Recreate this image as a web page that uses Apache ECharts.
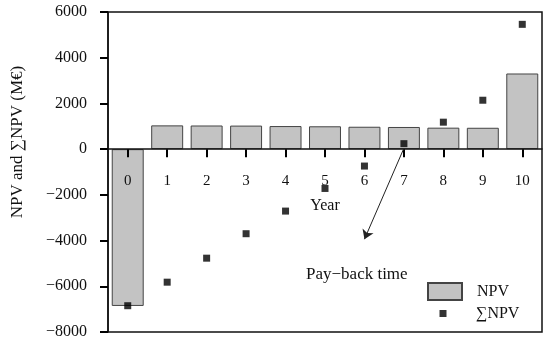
<!DOCTYPE html>
<html>
<head>
<meta charset="utf-8">
<script src="https://cdn.jsdelivr.net/npm/echarts@6/dist/echarts.min.js"></script>
<style>html,body{margin:0;padding:0;background:#fff}#c{width:550px;height:344px}</style>
</head>
<body>
<div id="c"></div>
<script>
var years = ['0','1','2','3','4','5','6','7','8','9','10'];
var npv = [-6860, 1040, 1035, 1030, 1010, 1000, 980, 970, 940, 935, 3310];
var cumNpv = [-6850, -5820, -4770, -3700, -2710, -1720, -740, 240, 1180, 2140, 5460];
var yTicks = [-8000, -6000, -4000, -2000, 0, 2000, 4000, 6000];

var FONT = "'Liberation Serif','Times New Roman',serif";
var GRID_TOP = 12, GRID_BOTTOM = 12, H = 344;
var yMin = yTicks[0], yMax = yTicks[yTicks.length - 1];
var zeroOffset = (H - GRID_TOP - GRID_BOTTOM) * (0 - yMin) / (yMax - yMin);

var chart = echarts.init(document.getElementById('c'));
chart.setOption({
  animation: false,
  backgroundColor: '#fff',
  grid: {left: 108, right: 8, top: GRID_TOP, bottom: GRID_BOTTOM, outerBoundsMode: 'none', containLabel: false,
         show: true, borderColor: '#111', borderWidth: 1.5, backgroundColor: 'transparent'},
  xAxis: {
    type: 'category', data: years, position: 'bottom', offset: -zeroOffset, z: 4,
    name: 'Year', nameLocation: 'middle', nameGap: 49,
    nameTextStyle: {fontFamily: FONT, fontSize: 16, color: '#111'},
    axisLine: {show: true, onZero: false, lineStyle: {color: '#111', width: 1.5}},
    axisTick: {show: true, inside: false, alignWithLabel: true, length: 8, lineStyle: {color: '#000', width: 2}},
    axisLabel: {show: true, margin: 24, fontFamily: FONT, fontSize: 15, color: '#111'},
    splitLine: {show: false}
  },
  yAxis: {
    type: 'value', min: yMin, max: yMax, interval: 2000,
    axisLine: {show: true, lineStyle: {color: '#111', width: 1.5}},
    axisTick: {show: true, inside: false, length: 8, lineStyle: {color: '#000', width: 2}},
    axisLabel: {margin: 21, fontFamily: FONT, fontSize: 16, color: '#111',
      formatter: function (v) { return v < 0 ? '\u2212' + Math.abs(v) : String(v); }},
    splitLine: {show: false}
  },
  legend: [
    {data: [{name: 'NPV', icon: 'rect'}], orient: 'vertical', left: 427, top: 282, padding: 0,
     itemWidth: 34, itemHeight: 17,
     textStyle: {fontFamily: FONT, fontSize: 16, color: '#111', padding: [0, 0, 0, 10]}},
    {data: [{name: '\u2211NPV', icon: 'rect'}], orient: 'vertical', left: 439.5, top: 305.5, padding: 0,
     itemWidth: 7, itemHeight: 7,
     textStyle: {fontFamily: FONT, fontSize: 16, color: '#111', padding: [0, 0, 0, 24.5]}}
  ],
  graphic: [
    {type: 'text', left: 306, top: 266, style: {text: 'Pay\u2212back time', font: '17px ' + FONT, fill: '#111'}},
    {type: 'text', x: 18, y: 142, rotation: Math.PI / 2,
     style: {text: 'NPV and \u2211NPV (M\u20ac)', font: '17px ' + FONT, fill: '#111', align: 'center', verticalAlign: 'middle'}}
  ],
  series: [
    {name: 'NPV', type: 'bar', data: npv, barCategoryGap: '19%',
     itemStyle: {color: '#c3c3c3', borderColor: '#444', borderWidth: 1}},
    {name: '\u2211NPV', type: 'scatter', data: cumNpv, symbol: 'rect', symbolSize: 7,
     itemStyle: {color: '#000'}, z: 5,
     markLine: {silent: true, symbol: ['none', 'arrow'], symbolSize: 9,
       label: {show: false}, lineStyle: {color: '#222', width: 1, type: 'solid'},
       data: [[{coord: ['7', 40]}, {coord: ['6', -3940]}]]}}
  ]
});
</script>
</body>
</html>
